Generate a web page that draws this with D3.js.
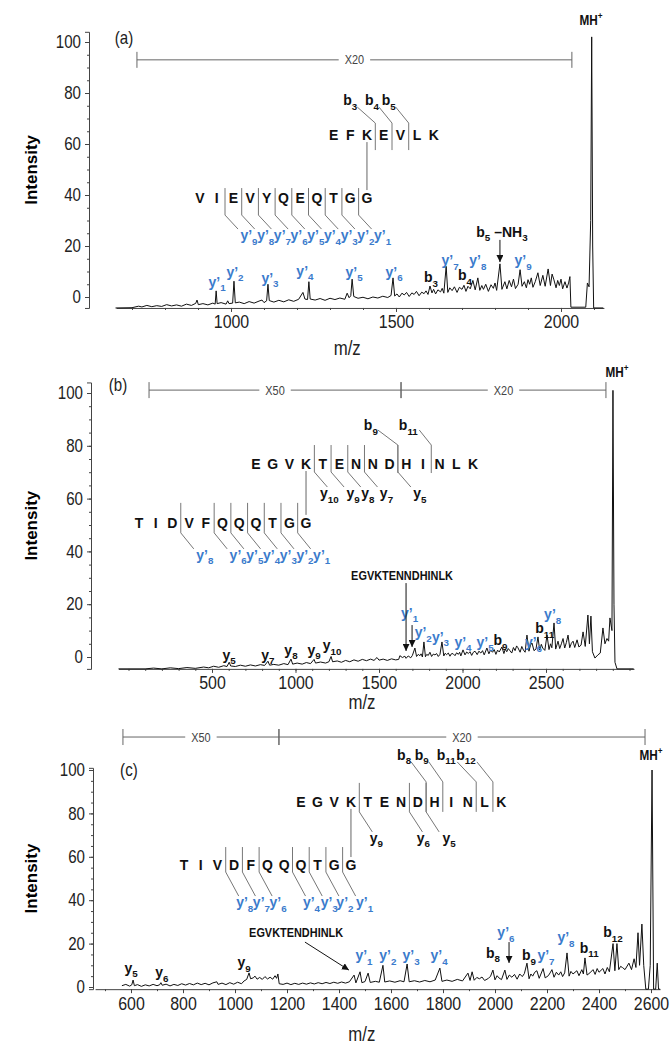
<!DOCTYPE html>
<html><head><meta charset="utf-8">
<script src="https://cdn.jsdelivr.net/npm/d3@7/dist/d3.min.js"></script>
<style>
body{margin:0;background:#fff;}
svg{display:block;}
</style></head>
<body><svg id="chart" width="670" height="1050"></svg>
<script>
// ================= DATA =================
const yTicks = [0, 20, 40, 60, 80, 100];
const xTicksA = [1000, 1500, 2000];
const xTicksB = [500, 1000, 1500, 2000, 2500];
const xTicksC = [600, 800, 1000, 1200, 1400, 1600, 1800, 2000, 2200, 2400, 2600];

// spectrum traces [m/z, relative intensity]
const specA = [[650,-4.3],[700,-4.2],[720,-3.6],[730,-3.9],[745,-3.3],[760,-3.8],[775,-3.4],[790,-3.7],[805,-3.0],[820,-3.5],[835,-3.1],[850,-3.6],[865,-2.8],[880,-3.3],[893,-2.5],[897,-1.2],[901,-3.0],[915,-2.6],[930,-3.1],[945,-2.4],[952,-2.8],[955,2.4],[958,-2.6],[970,-2.2],[985,-2.8],[990,-1.5],[994,-2.6],[1005,-2.4],[1009,6.2],[1013,-2.3],[1025,-2.0],[1040,-2.6],[1055,-1.8],[1070,-2.4],[1085,-1.6],[1094,-1.2],[1100,-2.2],[1108,-1.5],[1112,5.0],[1116,-1.4],[1130,-2.0],[1145,-1.3],[1160,-1.9],[1175,-1.1],[1190,-1.7],[1205,-0.9],[1218,1.8],[1224,-0.8],[1232,-1.0],[1236,6.0],[1240,-0.8],[1255,-1.2],[1270,-0.6],[1285,-1.3],[1300,-0.5],[1315,-1.0],[1330,-0.4],[1345,-0.9],[1352,1.5],[1358,-0.3],[1363,0.5],[1367,7.0],[1372,0.2],[1385,-0.5],[1400,-0.1],[1415,-0.7],[1430,0.0],[1445,-0.4],[1460,0.3],[1475,-0.2],[1485,0.6],[1491,7.5],[1496,0.4],[1503,1.2],[1510,0.0],[1518,1.5],[1525,0.8],[1532,1.8],[1540,0.2],[1548,1.6],[1555,1.0],[1562,2.2],[1570,0.5],[1578,1.9],[1585,1.3],[1591,2.4],[1597,1.0],[1603,4.3],[1609,1.6],[1614,3.0],[1620,1.2],[1627,2.8],[1635,2.0],[1640,3.4],[1645,1.5],[1652,12.0],[1657,1.8],[1663,3.6],[1670,2.5],[1677,4.0],[1685,1.8],[1692,3.8],[1700,3.0],[1706,4.6],[1712,2.2],[1718,4.2],[1725,3.2],[1733,6.5],[1740,2.8],[1748,7.5],[1754,2.6],[1760,4.5],[1765,3.0],[1772,5.0],[1780,2.2],[1788,4.8],[1795,3.4],[1800,5.5],[1805,2.6],[1815,13.0],[1821,3.0],[1830,6.0],[1836,3.2],[1843,6.5],[1850,4.0],[1856,7.0],[1862,3.3],[1870,5.0],[1876,10.7],[1882,4.2],[1889,6.0],[1895,3.6],[1900,6.8],[1905,5.0],[1910,7.5],[1915,3.8],[1922,6.0],[1930,9.5],[1937,4.5],[1945,8.5],[1952,4.2],[1961,11.0],[1968,4.5],[1973,9.0],[1978,7.0],[1985,3.6],[1990,6.5],[1995,4.5],[2000,7.0],[2005,3.2],[2012,6.0],[2018,3.5],[2023,5.5],[2027,8.0],[2030,-4.0],[2075,-4.0],[2080,5.5],[2085,4.0],[2090,30],[2093,102],[2096,20],[2099,-4.3],[2128,-4.3]];

const specB = [[-60,-4.5],[100,-4.5],[150,-4.2],[200,-4.5],[250,-4.1],[300,-4.4],[350,-4.0],[400,-4.3],[450,-3.8],[480,-4.1],[510,-3.5],[540,-3.9],[570,-3.3],[590,-3.6],[603,-2.0],[612,-3.4],[640,-3.6],[670,-3.1],[700,-3.5],[730,-3.0],[760,-3.4],[790,-2.9],[815,-3.2],[835,-1.6],[845,-3.1],[870,-2.8],[900,-3.1],[930,-2.5],[955,-2.9],[973,-0.8],[983,-2.7],[1010,-2.3],[1040,-2.7],[1065,-2.1],[1090,-2.5],[1111,-0.9],[1120,-2.3],[1150,-1.9],[1180,-2.3],[1200,-1.8],[1213,0.2],[1222,-1.8],[1250,-1.5],[1275,-2.0],[1300,-1.3],[1325,-1.8],[1350,-1.1],[1375,-1.6],[1400,-0.9],[1425,-1.4],[1450,-0.8],[1470,-1.3],[1488,-0.2],[1500,-1.2],[1525,-0.8],[1550,-1.3],[1575,-0.7],[1600,-1.1],[1618,-0.9],[1625,0.5],[1640,-0.2],[1655,0.3],[1662,-0.5],[1675,0.4],[1690,-0.3],[1700,0.6],[1715,3.4],[1725,0.2],[1735,1.0],[1745,0.5],[1752,1.2],[1760,0.0],[1769,5.7],[1778,0.1],[1786,1.0],[1795,0.6],[1805,1.8],[1815,0.2],[1825,1.1],[1835,0.8],[1845,1.3],[1855,0.2],[1865,1.0],[1877,5.7],[1888,0.4],[1896,1.4],[1905,0.9],[1915,1.5],[1925,0.3],[1933,1.2],[1943,1.3],[1955,0.5],[1965,1.6],[1975,1.0],[1983,1.8],[1990,0.4],[2003,2.7],[2015,0.8],[2025,1.9],[2035,1.3],[2045,2.0],[2055,0.6],[2065,1.8],[2075,2.2],[2088,0.9],[2098,2.2],[2110,1.5],[2120,2.4],[2130,0.8],[2146,3.4],[2158,1.2],[2168,2.6],[2180,1.8],[2190,2.8],[2200,1.0],[2210,2.6],[2220,1.9],[2236,3.8],[2248,1.3],[2256,3.0],[2265,2.0],[2274,3.2],[2284,2.4],[2295,1.5],[2305,3.6],[2315,2.4],[2324,4.2],[2332,3.5],[2345,1.8],[2355,4.0],[2365,2.6],[2375,1.8],[2386,8.3],[2398,2.2],[2407,4.5],[2416,5.3],[2428,2.4],[2440,3.0],[2452,7.6],[2462,2.6],[2472,4.8],[2480,3.4],[2493,2.5],[2506,8.3],[2518,2.8],[2527,5.0],[2535,3.5],[2548,12.9],[2558,3.0],[2572,6.0],[2582,3.2],[2592,5.0],[2602,7.0],[2612,3.4],[2622,5.5],[2632,8.3],[2642,3.5],[2652,5.2],[2662,6.0],[2672,3.6],[2686,6.5],[2697,3.8],[2710,4.5],[2722,9.5],[2735,4.0],[2751,15.9],[2760,5.0],[2769,15.5],[2778,2.0],[2793,-0.4],[2811,0.8],[2825,1.5],[2841,11.0],[2853,5.0],[2865,7.0],[2875,6.0],[2883,14.8],[2895,10],[2901,101],[2907,20],[2913,-2.0],[2925,-4.5],[3025,-4.5]];

const specC = [[565,0.6],[580,1.2],[595,0.4],[603,1.0],[608,3.2],[613,0.6],[625,1.1],[640,0.3],[655,1.0],[670,0.5],[685,1.2],[700,0.6],[710,1.0],[715,2.0],[720,0.8],[735,1.3],[750,0.5],[765,1.2],[780,0.7],[795,1.5],[810,0.9],[825,1.6],[840,1.0],[855,1.8],[870,1.1],[885,1.7],[900,1.0],[915,1.9],[930,2.4],[935,1.2],[950,1.8],[965,1.1],[980,2.0],[995,1.3],[1010,2.2],[1025,1.5],[1035,2.8],[1045,3.5],[1054,6.5],[1060,3.8],[1070,4.2],[1077,5.0],[1085,3.6],[1095,4.4],[1105,3.5],[1115,4.8],[1125,3.7],[1135,4.5],[1145,3.6],[1154,5.2],[1160,4.0],[1165,6.0],[1170,1.5],[1185,1.2],[1200,1.8],[1215,1.1],[1230,1.7],[1245,1.2],[1260,1.8],[1275,1.3],[1290,1.9],[1305,1.4],[1320,2.0],[1335,1.5],[1350,2.1],[1365,1.6],[1380,2.2],[1395,1.7],[1410,2.3],[1425,1.8],[1440,2.4],[1458,5.5],[1465,1.9],[1481,7.0],[1488,2.0],[1500,2.5],[1512,6.4],[1520,2.1],[1540,2.6],[1555,2.2],[1569,10.0],[1576,2.3],[1595,2.8],[1615,2.2],[1635,2.9],[1650,2.4],[1662,10.6],[1670,2.4],[1690,2.9],[1710,2.3],[1730,3.0],[1750,2.4],[1770,3.2],[1788,8.7],[1796,2.6],[1815,3.2],[1835,2.6],[1855,3.5],[1875,2.8],[1896,6.4],[1904,3.0],[1912,7.0],[1920,3.1],[1930,4.4],[1940,3.8],[1950,4.6],[1960,3.0],[1975,4.0],[1983,5.0],[1992,7.8],[2000,3.3],[2008,5.2],[2015,4.2],[2025,3.4],[2038,7.8],[2046,3.5],[2055,5.5],[2065,4.5],[2075,5.8],[2085,3.6],[2095,6.0],[2105,4.8],[2113,6.2],[2123,11.0],[2131,3.8],[2138,6.0],[2145,5.0],[2153,6.8],[2161,7.5],[2170,4.0],[2185,8.5],[2193,4.2],[2205,5.2],[2212,6.5],[2219,8.0],[2227,4.5],[2236,6.8],[2245,5.5],[2253,7.0],[2260,4.8],[2268,6.5],[2277,15.7],[2285,5.0],[2292,7.2],[2300,6.0],[2315,7.5],[2323,5.2],[2334,8.0],[2340,6.0],[2346,13.4],[2354,5.5],[2365,6.5],[2377,8.0],[2385,5.8],[2393,8.5],[2400,6.8],[2415,8.5],[2423,6.0],[2432,9.0],[2440,7.0],[2454,20.0],[2461,7.5],[2469,20.0],[2476,8.0],[2483,9.5],[2490,9.0],[2500,8.0],[2515,11.0],[2525,8.0],[2535,13.0],[2542,9.0],[2550,25.0],[2556,10.0],[2565,29.0],[2572,10.0],[2580,-1.0],[2590,-1.0],[2597,10.0],[2604,100],[2610,-1.0],[2618,-1.0],[2624,11.0],[2629,-1.0],[2635,-1.0]];

// peak labels: [text, subscript, m/z, intensity, colour, tail, tailSub]
const labelsA = [
  ["y’","1",958,5.9,"blue"],["y’","2",1012,9.8,"blue"],["y’","3",1118,7.5,"blue"],["y’","4",1224,10.2,"blue"],
  ["y’","5",1373,9.8,"blue"],["y’","6",1494,9.8,"blue"],["b","3",1606,7.8,"black"],["y’","7",1664,14.5,"blue"],
  ["b","4",1709,8.6,"black"],["y’","8",1748,14.5,"blue"],["y’","9",1885,14.5,"blue"],["b","5",1821,25.5,"black"," –NH","3"]
];
const labelsB = [
  ["y","5",602,0.8,"black"],["y","7",835,0.8,"black"],["y","8",973,2.7,"black"],["y","9",1111,2.7,"black"],["y","10",1219,4.5,"black"],
  ["y’","1",1683,16.8,"blue"],["y’","2",1765,9.3,"blue"],["y’","3",1868,7.6,"blue"],["y’","4",2003,5.7,"blue"],
  ["y’","5",2135,5.7,"blue"],["b","9",2228,6.4,"black"],["y’","6",2425,5.5,"blue"],["b","11",2492,10.8,"black"],["y’","8",2540,16.2,"blue"]
];
const labelsC = [
  ["y","5",600,8.8,"black"],["y","6",719,6.9,"black"],["y","9",1035,11.5,"black"],
  ["y’","1",1496,14.7,"blue"],["y’","2",1588,14.7,"blue"],["y’","3",1677,14.7,"blue"],["y’","4",1785,14.7,"blue"],
  ["b","8",1992,15.7,"black"],["y’","6",2042,25.3,"blue"],["b","9",2131,14.7,"black"],["y’","7",2196,14.7,"blue"],
  ["y’","8",2273,23.0,"blue"],["b","11",2362,18.0,"black"],["b","12",2454,25.3,"black"]
];
// arrows [m/z from, int from, m/z to, int to]
const arrowsA = [[1815,22.4,1815,13.7]];
const arrowsB = [[1662,28.0,1662,2.3],[1698,12.1,1698,3.8]];
const arrowsC = [[1269,20.7,1438,7.8],[2054,20.7,2054,11.1]];
// precursor names [text, m/z, intensity]
const namesB = [["EGVKTENNDHINLK",1638,30.7]];
const namesC = [["EGVKTENDHINLK",1235,24.9]];
// MH+ label positions [m/z, intensity]
const mhA = [2091,108.6], mhB = [2925,108], mhC = [2600,107];
// scaling brackets [from m/z, to m/z, label]
const bracketA = [[715,2033,"X20"]];
const bracketB = [[123,1632,"X50"],[1632,2859,"X20"]];
const bracketC = [[569,1169,"X50"],[1169,2577,"X20"]];
const bracketLevel = [93, 101.1, 115.2];
// cross-linked peptides: cuts [after residue, ion side, ion name, index, label shift]
const pepA = [
  {seq:"EFKEVLK", link:2, row:63.5, cuts:[[3,"b","b","3",-25],[4,"b","b","4",-20],[5,"b","b","5",-20]]},
  {seq:"VIEVYQEQTGG", link:10, row:38.8, cuts:[[2,"y","y’","9"],[3,"y","y’","8"],[4,"y","y’","7"],[5,"y","y’","6"],[6,"y","y’","5"],[7,"y","y’","4"],[8,"y","y’","3"],[9,"y","y’","2"],[10,"y","y’","1"]]}
];
const pepB = [
  {seq:"EGVKTENNDHINLK", link:3, row:73.1, cuts:[[9,"b","b","9",-27],[11,"b","b","11",-23],[4,"y","y","10",15],[5,"y","y","9",22],[6,"y","y","8",20],[7,"y","y","7",22],[9,"y","y","5",22]]},
  {seq:"TIDVFQQQTGG", link:10, row:50.8, cuts:[[3,"y","y’","8"],[5,"y","y’","6"],[6,"y","y’","5"],[7,"y","y’","4"],[8,"y","y’","3"],[9,"y","y’","2"],[10,"y","y’","1"]]}
];
const pepC = [
  {seq:"EGVKTENDHINLK", link:3, row:85.3, cuts:[[8,"b","b","8",-22],[9,"b","b","9",-21],[11,"b","b","11",-30],[12,"b","b","12",-27],[4,"y","y","9",17],[7,"y","y","6",14],[8,"y","y","5",23]]},
  {seq:"TIVDFQQQTGG", link:10, row:56.2, cuts:[[3,"y","y’","8",19],[4,"y","y’","7",19],[5,"y","y’","6",19],[7,"y","y’","4",19],[8,"y","y’","3",20],[9,"y","y’","2",19],[10,"y","y’","1",22]]}
];
const linkMz = [1412, 1063, 1446];
const panelNames = ["(a)", "(b)", "(c)"];

// ================= LAYOUT (positions / styles) =================
const BLUE = "#3b7bcc";
const SANS = "Arial,'Liberation Sans',sans-serif";
const NX = 0.84; // horizontal squeeze emulating a narrow face
const layout = [
  {spec:specA, labels:labelsA, arrows:arrowsA, names:[], mh:mhA, bracket:bracketA, pep:pepA, xTicks:xTicksA,
   xRef:[1000,2000], xPx:[231,561], yPx:[297,42], axisX:89, xSpan:[652,2130], ySpan:[-4.3,104], minor:100,
   nameAt:[676,101.6], mzAt:[1352,-20.5],
   bStyle:{dTop:-28,dBot:-12,vBot:15,lab:-35}, yStyle:[null,{top:-10,bot:17,lab:37}]},
  {spec:specB, labels:labelsB, arrows:arrowsB, names:namesB, mh:mhB, bracket:bracketB, pep:pepB, xTicks:xTicksB,
   xRef:[500,2500], xPx:[212,546], yPx:[657,393], axisX:91, xSpan:[-60,3027], ySpan:[-4.5,104], minor:100,
   nameAt:[-63,103], mzAt:[1398,-17.4],
   bStyle:{dTop:-34,dBot:-19,vBot:9,lab:-39}, yStyle:[{top:-19,bot:8,lab:29},{top:-20,bot:10,lab:32}]},
  {spec:specC, labels:labelsC, arrows:arrowsC, names:namesC, mh:mhC, bracket:bracketC, pep:pepC, xTicks:xTicksC,
   xRef:[600,2600], xPx:[131,651], yPx:[987,770], axisX:93, xSpan:[462,2635], ySpan:[-1,101], minor:100,
   nameAt:[592,100], mzAt:[1488,-22.1],
   bStyle:{dTop:-40,dBot:-20,vBot:10,lab:-47}, yStyle:[{top:-19,bot:10,lab:36},{top:-18,bot:7,lab:37}]}
];

const svg = d3.select("#chart");
svg.append("defs").append("marker").attr("id","arr").attr("viewBox","0 0 8 8")
  .attr("refX",8).attr("refY",4).attr("markerWidth",7).attr("markerHeight",7)
  .attr("markerUnits","userSpaceOnUse").attr("orient","auto")
  .append("path").attr("d","M0,0L8,4L0,8Z").attr("fill","#111");

function rich(g, x, y, parts, size, fill, anchor, sx) {
  const t = g.append("text").attr("transform", `translate(${x},${y}) scale(${sx || 1},1)`)
    .attr("text-anchor", anchor || "middle")
    .attr("fill", fill).style("font-size", size + "px").style("font-family", SANS)
    .style("font-weight", "bold");
  let cur = 0;
  parts.forEach(([s, k]) => {
    const target = k === "s" ? size * 0.32 : k === "p" ? -size * 0.42 : 0;
    const ts = t.append("tspan").text(s).attr("dy", target - cur);
    if (k !== "n") ts.style("font-size", (size * 0.7) + "px");
    cur = target;
  });
  return t;
}
function narrowText(g, x, y, txt, size, extra) {
  const t = g.append("text").attr("transform", `translate(${x},${y}) scale(${NX},1)`)
    .attr("text-anchor", "middle").style("font-family", SANS).style("font-size", size + "px")
    .attr("fill", "#222").text(txt);
  if (extra) extra(t);
  return t;
}

layout.forEach((L, pi) => {
  const g = svg.append("g");
  const x = d3.scaleLinear().domain(L.xRef).range(L.xPx);
  const y = d3.scaleLinear().domain([0, 100]).range(L.yPx);

  // ---- y axis ----
  const ya = y.copy().domain(L.ySpan).range(L.ySpan.map(y));
  const yg = g.append("g").attr("transform", `translate(${L.axisX},0)`)
    .call(d3.axisLeft(ya).tickValues(yTicks).tickSize(4).tickSizeOuter(4).tickPadding(5.5));
  yg.selectAll("text").style("font-family", SANS).style("font-size", "18px").attr("fill", "#222")
    .attr("transform", `scale(${NX},1)`);
  const ym = g.append("g").attr("transform", `translate(${L.axisX},0)`)
    .call(d3.axisLeft(ya).tickValues(d3.range(0, 101, 5)).tickSize(2).tickFormat(""));
  ym.select(".domain").remove();

  // ---- x axis ----
  const xa = x.copy().domain(L.xSpan).range(L.xSpan.map(x));
  const x0 = y(L.ySpan[0]);
  const xg = g.append("g").attr("transform", `translate(0,${x0})`)
    .call(d3.axisBottom(xa).tickValues(L.xTicks).tickSize(4).tickSizeOuter(0).tickPadding(3).tickFormat(d3.format("d")));
  xg.selectAll("text").style("font-family", SANS).style("font-size", "19px").attr("fill", "#222")
    .attr("transform", `scale(${NX},1)`);
  const minorTicks = d3.range(Math.ceil(L.xSpan[0] / L.minor) * L.minor, L.xSpan[1], L.minor);
  const xm = g.append("g").attr("transform", `translate(0,${x0})`)
    .call(d3.axisBottom(xa).tickValues(minorTicks).tickSize(2).tickFormat(""));
  xm.select(".domain").remove();
  g.selectAll(".domain, .tick line").attr("stroke", "#444");

  // ---- axis titles ----
  const ymid = (y(L.ySpan[0]) + y(L.ySpan[1])) / 2;
  g.append("text").attr("transform", `translate(37,${ymid}) rotate(-90)`).attr("text-anchor", "middle")
    .style("font-family", SANS).style("font-weight", "bold").style("font-size", "17px").text("Intensity");
  narrowText(g, x(L.mzAt[0]), y(L.mzAt[1]) + 6, "m/z", 20);
  narrowText(g, x(L.nameAt[0]), y(L.nameAt[1]) + 6, panelNames[pi], 18);

  // ---- brackets ----
  const by = y(bracketLevel[pi]);
  L.bracket.forEach(([a, b, lab]) => {
    const xa1 = x(a), xb1 = x(b), xc = (xa1 + xb1) / 2;
    const t = narrowText(g, xc, by + 4.5, lab, 13, t => t.attr("fill", "#444"));
    const w = t.node().getComputedTextLength() * NX / 2 + 6;
    g.append("path").attr("d", `M${xa1},${by}H${xc - w}M${xc + w},${by}H${xb1}M${xa1},${by - 8}V${by + 8}M${xb1},${by - 8}V${by + 8}`)
      .attr("stroke", "#666").attr("stroke-width", 1).attr("fill", "none");
  });

  // ---- spectrum ----
  g.append("path").datum(L.spec)
    .attr("d", d3.line().x(d => x(d[0])).y(d => y(d[1])))
    .attr("fill", "none").attr("stroke", "#111").attr("stroke-width", 1).attr("stroke-linejoin", "round");

  // ---- MH+ ----
  rich(g, x(L.mh[0]), y(L.mh[1]) + 5, [["MH", "n"], ["+", "p"]], 14, "#111", "middle", NX);

  // ---- peak labels ----
  L.labels.forEach(d => {
    const parts = [[d[0], "n"], [d[1], "s"]];
    if (d[5]) { parts.push([d[5], "n"], [d[6], "s"]); }
    rich(g, x(d[2]), y(d[3]) + 5, parts, 14, d[4] === "blue" ? BLUE : "#111");
  });
  L.names.forEach(d => {
    rich(g, x(d[1]), y(d[2]) + 4.5, [[d[0], "n"]], 13, "#111", "middle", NX);
  });
  L.arrows.forEach(d => {
    g.append("line").attr("x1", x(d[0])).attr("y1", y(d[1])).attr("x2", x(d[2])).attr("y2", y(d[3]))
      .attr("stroke", "#111").attr("stroke-width", 1).attr("marker-end", "url(#arr)");
  });

  // ---- peptide sequences ----
  const step = 16.7;
  const lx = x(linkMz[pi]);
  const rows = L.pep.map(p => y(p.row));
  g.append("line").attr("x1", lx).attr("x2", lx).attr("y1", rows[0] + 7).attr("y2", rows[1] - 8)
    .attr("stroke", "#666").attr("stroke-width", 1);
  L.pep.forEach((p, ri) => {
    const ry = rows[ri];
    const xs = lx - p.link * step;
    p.seq.split("").forEach((c, i) => {
      g.append("text").attr("x", xs + i * step).attr("y", ry + 5).attr("text-anchor", "middle")
        .style("font-family", SANS).style("font-weight", "bold").style("font-size", "14px").attr("fill", "#111").text(c);
    });
    p.cuts.forEach(([after, side, nm, sub, shift]) => {
      const xm = xs + (after - 0.5) * step;
      const col = nm.includes("’") ? BLUE : "#111";
      if (side === "b") {
        const s = L.bStyle;
        const lxp = xm + (shift !== undefined ? shift : -22);
        const dStart = lxp + (sub.length > 1 ? 11 : 7);
        g.append("path").attr("d", `M${dStart},${ry + s.dTop}L${xm},${ry + s.dBot}V${ry + s.vBot}`)
          .attr("stroke", "#777").attr("fill", "none").attr("stroke-width", 1);
        rich(g, lxp, ry + s.lab + 5, [[nm, "n"], [sub, "s"]], 14, col);
      } else {
        const s = L.yStyle[ri];
        const lxp = xm + (shift !== undefined ? shift : 24);
        g.append("path").attr("d", `M${xm},${ry + s.top}V${ry + s.bot}L${xm + 13},${ry + s.lab - 6}`)
          .attr("stroke", "#777").attr("fill", "none").attr("stroke-width", 1);
        rich(g, lxp, ry + s.lab + 5, [[nm, "n"], [sub, "s"]], 14, col);
      }
    });
  });
});
</script></body></html>
